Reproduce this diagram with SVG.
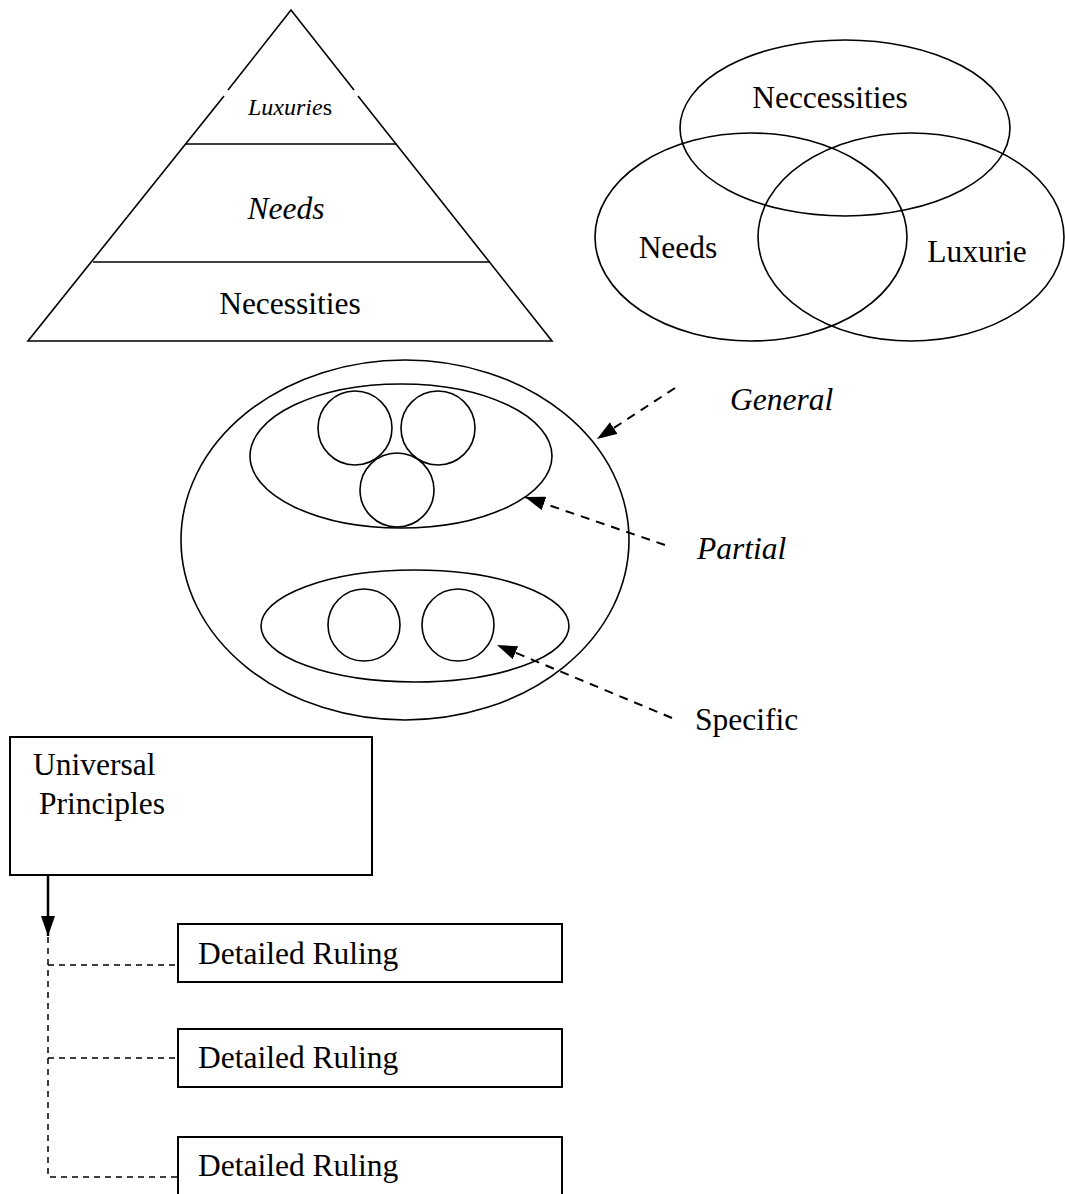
<svg xmlns="http://www.w3.org/2000/svg" width="1065" height="1194" viewBox="0 0 1065 1194">
<style>
.s{fill:none;stroke:#000;stroke-width:1.6}
.b{fill:#fff;stroke:#000;stroke-width:2}
.d{fill:none;stroke:#000;stroke-width:2;stroke-dasharray:9 7}
.dt{fill:none;stroke:#000;stroke-width:1.5;stroke-dasharray:6 5}
text{font-family:"Liberation Serif","Times New Roman",serif;font-size:31.5px;fill:#000}
.i{font-style:italic}
</style>
<defs>
<marker id="ah2" viewBox="0 0 20 14" refX="20" refY="7" markerWidth="20" markerHeight="14" markerUnits="userSpaceOnUse" orient="auto">
<path d="M0,0 L20,7 L0,14 z" fill="#000"/>
</marker>
</defs>
<rect width="1065" height="1194" fill="#fff"/>

<g id="pyramid">
<path class="s" d="M228,90 L291,10 L354,90"/>
<path class="s" d="M224,96 L28,341 L552,341 L358,96"/>
<line class="s" x1="186" y1="144" x2="397" y2="144"/>
<line class="s" x1="93" y1="262" x2="490" y2="262"/>
<text x="290" y="115" text-anchor="middle" style="font-size:24px"><tspan class="i">Luxurie</tspan>s</text>
<text class="i" x="286" y="219" text-anchor="middle">Needs</text>
<text x="290" y="314" text-anchor="middle">Necessities</text>
</g>

<g id="venn">
<ellipse class="s" cx="845" cy="128" rx="165" ry="88"/>
<ellipse class="s" cx="751" cy="237" rx="156" ry="104"/>
<ellipse class="s" cx="911" cy="237" rx="153" ry="104"/>
<text x="830" y="108" text-anchor="middle">Neccessities</text>
<text x="678" y="258" text-anchor="middle">Needs</text>
<text x="977" y="262" text-anchor="middle">Luxurie</text>
</g>

<g id="sets">
<ellipse class="s" cx="405" cy="540" rx="224" ry="180"/>
<ellipse class="s" cx="401" cy="456" rx="151" ry="72"/>
<circle class="s" cx="355" cy="428" r="37"/>
<circle class="s" cx="438" cy="428" r="37"/>
<circle class="s" cx="397" cy="490" r="37"/>
<ellipse class="s" cx="415" cy="626" rx="154" ry="56"/>
<circle class="s" cx="364" cy="625" r="36"/>
<circle class="s" cx="458" cy="625" r="36"/>
</g>

<g id="labels">
<text class="i" x="730" y="410">General</text>
<text class="i" x="697" y="559">Partial</text>
<text x="695" y="730">Specific</text>
</g>

<g id="universal">
<rect class="b" x="10" y="737" width="362" height="138"/>
<text x="33" y="775">Universal</text>
<text x="39" y="814">Principles</text>
</g>
<g id="ruling1">
<rect class="b" x="178" y="924" width="384" height="58"/>
<text x="198" y="964">Detailed Ruling</text>
</g>
<g id="ruling2">
<rect class="b" x="178" y="1029" width="384" height="58"/>
<text x="198" y="1068">Detailed Ruling</text>
</g>
<g id="ruling3">
<rect class="b" x="178" y="1137" width="384" height="70"/>
<text x="198" y="1176">Detailed Ruling</text>
</g>

<g id="connectors">
<line class="d" x1="675" y1="388" x2="597" y2="439" marker-end="url(#ah2)"/>
<line class="d" x1="665" y1="545" x2="525" y2="497" marker-end="url(#ah2)"/>
<line class="d" x1="672" y1="718" x2="497" y2="645" marker-end="url(#ah2)"/>
<line x1="48" y1="875" x2="48" y2="936" stroke="#000" stroke-width="2.5" marker-end="url(#ah2)"/>
<path class="dt" d="M48,937 L48,1177 L178,1177"/>
<line class="dt" x1="48" y1="965" x2="178" y2="965"/>
<line class="dt" x1="48" y1="1058" x2="178" y2="1058"/>
</g>
</svg>
